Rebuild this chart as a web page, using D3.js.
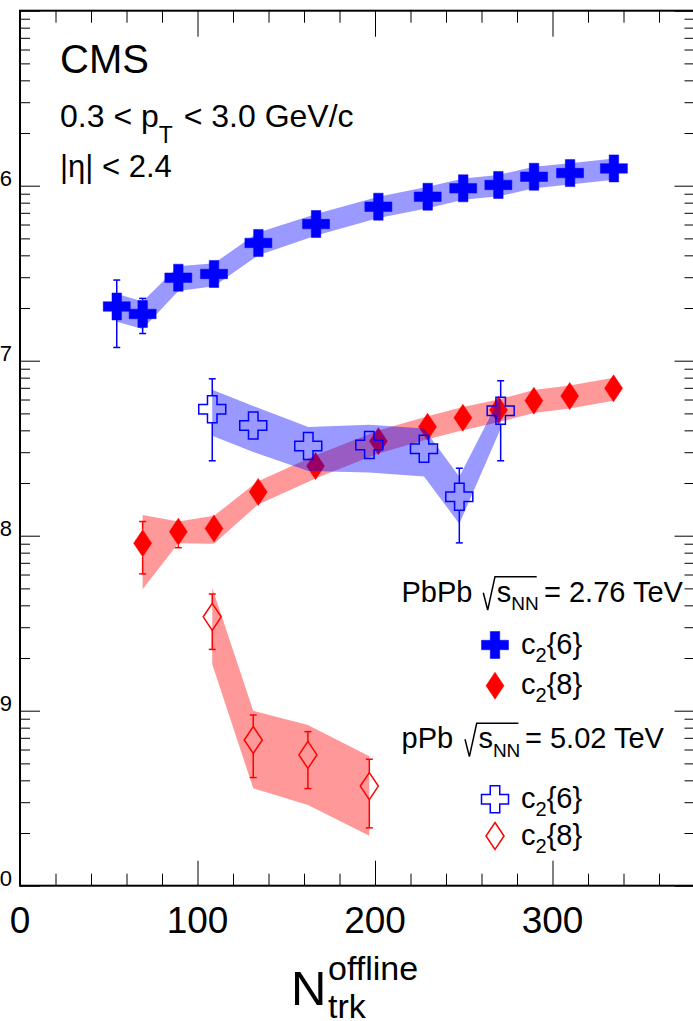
<!DOCTYPE html>
<html>
<head>
<meta charset="utf-8">
<script src="https://cdn.jsdelivr.net/npm/d3@7"></script>
<style>
body { margin: 0; background: #fff; overflow: hidden; }
svg { display: block; font-family: "Liberation Sans", Arial, Helvetica, sans-serif; }
</style>
</head>
<body>
<script>
// PbPb 2.76 TeV, c2{6}
const pbpb6N    = [54.5, 69.1, 89.2, 109.3, 134.3, 166.8, 201.9, 229.7, 249.7, 269.5, 289.6, 309.9, 334.6];
const pbpb6     = [2.04e-7, 1.85e-7, 2.98e-7, 3.13e-7, 4.71e-7, 6.04e-7, 7.59e-7, 8.65e-7, 9.66e-7, 1.01e-6, 1.125e-6, 1.18e-6, 1.256e-6];
const pbpb6Stat = [0.85e-7, 0.42e-7, 0.12e-7, 0.1e-7, 0.1e-7, 0.1e-7, 0.1e-7, 0.1e-7, 0.1e-7, 0.1e-7, 0.1e-7, 0.1e-7, 0.1e-7];
const pbpb6Sys  = [0.37e-7, 0.33e-7, 0.48e-7, 0.47e-7, 0.7e-7, 0.85e-7, 1.06e-7, 1.21e-7, 1.35e-7, 1.41e-7, 1.58e-7, 1.65e-7, 1.76e-7];

// PbPb 2.76 TeV, c2{8}
const pbpb8N    = [69.1, 89.2, 109.3, 134.2, 166.5, 201.9, 229.6, 249.5, 269.6, 289.5, 309.7, 334.4];
const pbpb8     = [9.05e-9, 1.054e-8, 1.10e-8, 1.78e-8, 2.50e-8, 3.47e-8, 4.19e-8, 4.72e-8, 5.23e-8, 5.91e-8, 6.28e-8, 6.95e-8];
const pbpb8Stat = [3.0e-9, 2.0e-9, 1.0e-9, 1.0e-9, 1.0e-9, 1.0e-9, 1.0e-9, 1.0e-9, 1.0e-9, 1.0e-9, 1.0e-9, 1.0e-9];
const pbpb8Sys  = [4.1e-9, 1.5e-9, 2.0e-9, 2.7e-9, 3.8e-9, 5.2e-9, 6.3e-9, 7.1e-9, 7.8e-9, 8.9e-9, 9.4e-9, 10.4e-9];

// pPb 5.02 TeV, c2{6}
const ppb6N    = [108.3, 131.4, 162.4, 196.8, 227.6, 247.5, 270.8];
const ppb6     = [5.28e-8, 4.26e-8, 3.26e-8, 3.30e-8, 3.14e-8, 1.67e-8, 5.18e-8];
const ppb6Stat = [2.6e-8, 0.4e-8, 0.4e-8, 0.4e-8, 0.4e-8, 0.76e-8, 2.5e-8];
const ppb6Sys  = [1.55e-8, 1.25e-8, 0.92e-8, 1.0e-8, 0.96e-8, 0.5e-8, 1.1e-8];

// pPb 5.02 TeV, c2{8}
const ppb8N    = [108.3, 131.4, 162.2, 196.8];
const ppb8     = [3.44e-9, 6.80e-10, 5.59e-10, 3.71e-10];
const ppb8Stat = [1.2e-9, 2.65e-10, 2.0e-10, 1.57e-10];
const ppb8Sys  = [1.6e-9, 3.2e-10, 2.7e-10, 1.78e-10];

const xTickLabels = [0, 100, 200, 300];
const yDecades = [-6, -7, -8, -9, -10];

const width = 693, height = 1021;
const blue = "#0000ff", red = "#ff0000";

const x = d3.scaleLinear().domain([0, 380]).range([20, 694.5]);
const y = d3.scaleLog().domain([1e-10, 1e-5]).range([885.7, 10.7]);

const svg = d3.select("body").append("svg")
  .attr("width", width)
  .attr("height", height);

function rows(n, v, stat, sys) {
  return n.map((d, i) => ({n: d, v: v[i], stat: stat[i], sys: sys[i]}));
}

const crossPath = (() => {
  const h = 13.5, w = 4.75;
  return `M${-w},${-h}L${w},${-h}L${w},${-w}L${h},${-w}L${h},${w}L${w},${w}L${w},${h}L${-w},${h}L${-w},${w}L${-h},${w}L${-h},${-w}L${-w},${-w}Z`;
})();
const diamondPath = "M0,-13.5L9,0L0,13.5L-9,0Z";

const band = d3.area()
  .x(d => x(d.n))
  .y0(d => y(d.v - d.sys))
  .y1(d => y(d.v + d.sys));

function drawSeries(data, color, bandColor, path, filled) {
  const g = svg.append("g");
  g.append("path")
    .datum(data)
    .attr("d", band)
    .attr("fill", bandColor)
    .attr("stroke", "none");

  // stat error bars, with a gap where the marker sits
  const gap = 13.5;
  const eb = g.append("g").attr("stroke", color).attr("stroke-width", 1.5);
  data.forEach(d => {
    const cx = x(d.n), cy = y(d.v);
    const yt = y(d.v + d.stat), yb = y(d.v - d.stat);
    if (yt < cy - gap) {
      eb.append("line").attr("x1", cx).attr("x2", cx).attr("y1", yt).attr("y2", cy - gap);
      eb.append("line").attr("x1", cx - 3.5).attr("x2", cx + 3.5).attr("y1", yt).attr("y2", yt);
    }
    if (yb > cy + gap) {
      eb.append("line").attr("x1", cx).attr("x2", cx).attr("y1", cy + gap).attr("y2", yb);
      eb.append("line").attr("x1", cx - 3.5).attr("x2", cx + 3.5).attr("y1", yb).attr("y2", yb);
    }
  });

  g.selectAll("path.m")
    .data(data)
    .enter().append("path")
      .attr("class", "m")
      .attr("d", path)
      .attr("transform", d => `translate(${x(d.n)},${y(d.v)})`)
      .attr("fill", filled ? color : "none")
      .attr("stroke", color)
      .attr("stroke-width", filled ? 0.5 : 1.5);
}

drawSeries(rows(pbpb6N, pbpb6, pbpb6Stat, pbpb6Sys), blue, "rgba(0,0,255,0.4)", crossPath, true);
drawSeries(rows(pbpb8N, pbpb8, pbpb8Stat, pbpb8Sys), red, "rgba(255,0,0,0.4)", diamondPath, true);
drawSeries(rows(ppb6N, ppb6, ppb6Stat, ppb6Sys), blue, "rgba(0,0,255,0.4)", crossPath, false);
drawSeries(rows(ppb8N, ppb8, ppb8Stat, ppb8Sys), red, "rgba(255,0,0,0.4)", diamondPath, false);

// axes: inward ticks on all four sides
const xMinor = d3.range(0, 381, 20).filter(v => v % 100 !== 0);
const xMajor = [0, 100, 200, 300];
const yAll = y.ticks();
const yMajor = yAll.filter(v => Math.abs(Math.log10(v) - Math.round(Math.log10(v))) < 1e-6);
const yMinor = yAll.filter(v => !yMajor.includes(v));

function addAxis(axis, tx, ty) {
  const g = svg.append("g")
    .attr("transform", `translate(${tx},${ty})`)
    .call(axis);
  g.select(".domain").remove();
  g.selectAll(".tick line").attr("stroke", "#000").attr("stroke-width", 1);
  g.selectAll(".tick text").remove();
}

addAxis(d3.axisBottom(x).tickValues(xMinor).tickSize(-12), 0, 885.7);
addAxis(d3.axisBottom(x).tickValues(xMajor).tickSize(-25), 0, 885.7);
addAxis(d3.axisTop(x).tickValues(xMinor).tickSize(-12), 0, 10.7);
addAxis(d3.axisTop(x).tickValues(xMajor).tickSize(-26), 0, 10.7);
addAxis(d3.axisLeft(y).tickValues(yMinor).tickSize(-10), 20, 0);
addAxis(d3.axisLeft(y).tickValues(yMajor).tickSize(-20), 20, 0);
addAxis(d3.axisRight(y).tickValues(yMinor).tickSize(-10), 694.5, 0);
addAxis(d3.axisRight(y).tickValues(yMajor).tickSize(-20), 694.5, 0);

svg.append("rect")
  .attr("x", 20).attr("y", 10.7)
  .attr("width", 694.5 - 20).attr("height", 885.7 - 10.7)
  .attr("fill", "none")
  .attr("stroke", "#000")
  .attr("stroke-width", 2);

// tick labels
svg.append("g").selectAll("text")
  .data(xTickLabels)
  .enter().append("text")
    .attr("x", d => x(d))
    .attr("y", 933)
    .attr("text-anchor", "middle")
    .attr("font-size", 37)
    .text(d => d);

// log labels 10^-n; only the last digit falls inside the page, as in the original
const yl = svg.append("g").selectAll("text")
  .data(yDecades)
  .enter().append("text")
    .attr("x", 12)
    .attr("y", d => y(Math.pow(10, d)) + 10)
    .attr("text-anchor", "end")
    .attr("font-size", 30);
yl.append("tspan").text("10");
yl.append("tspan").attr("dy", -10).attr("font-size", 22).text(d => "\u2212" + Math.abs(d));

// axis title
const xt = svg.append("g");
xt.append("text").attr("x", 291).attr("y", 1005).attr("font-size", 49).text("N");
xt.append("text").attr("x", 328).attr("y", 980).attr("font-size", 34).text("offline");
xt.append("text").attr("x", 328).attr("y", 1018).attr("font-size", 34).text("trk");

// header text
svg.append("text").attr("x", 60).attr("y", 73.3).attr("font-size", 40).text("CMS");
const pt = svg.append("text").attr("x", 60).attr("y", 126.7).attr("font-size", 32);
pt.append("tspan").text("0.3 < p");
pt.append("tspan").attr("dy", 16).attr("font-size", 23).text("T");
pt.append("tspan").attr("dy", -16).attr("dx", 2).text(" < 3.0 GeV/c");
svg.append("text").attr("x", 60).attr("y", 176.7).attr("font-size", 31).text("|\u03b7| < 2.4");

// legend
function sqrtLabel(x0, base, head, sx, ex, tail) {
  const g = svg.append("g");
  g.append("text").attr("x", x0).attr("y", base).attr("font-size", 29).text(head);
  g.append("path")
    .attr("d", `M${sx - 1},${base - 9}L${sx + 3.4},${base + 8.3}L${sx + 10.7},${base - 25}L${sx + 52.4},${base - 25}`)
    .attr("fill", "none").attr("stroke", "#000").attr("stroke-width", 1.5);
  const t = g.append("text").attr("x", sx + 12.4).attr("y", base).attr("font-size", 29);
  t.append("tspan").text("s");
  t.append("tspan").attr("dy", 8.5).attr("font-size", 19).text("NN");
  g.append("text").attr("x", ex).attr("y", base).attr("font-size", 29).text(tail);
}
sqrtLabel(401.5, 601.7, "PbPb", 484.3, 544, "= 2.76 TeV");
sqrtLabel(401.5, 748.3, "pPb", 466, 525, "= 5.02 TeV");

const legendRows = [
  {path: crossPath, color: blue, filled: true, cy: 645, label: "6"},
  {path: diamondPath, color: red, filled: true, cy: 685.7, label: "8"},
  {path: crossPath, color: blue, filled: false, cy: 799.3, label: "6"},
  {path: diamondPath, color: red, filled: false, cy: 836, label: "8"}
];
const lg = svg.append("g");
legendRows.forEach(r => {
  lg.append("path")
    .attr("d", r.path)
    .attr("transform", `translate(495,${r.cy})`)
    .attr("fill", r.filled ? r.color : "none")
    .attr("stroke", r.color)
    .attr("stroke-width", r.filled ? 0.5 : 1.5);
  const t = lg.append("text").attr("x", 521).attr("y", r.cy + 8.5).attr("font-size", 29);
  t.append("tspan").text("c");
  t.append("tspan").attr("dy", 8).attr("font-size", 20).text("2");
  t.append("tspan").attr("dy", -8).text("{" + r.label + "}");
});
</script>
</body>
</html>
